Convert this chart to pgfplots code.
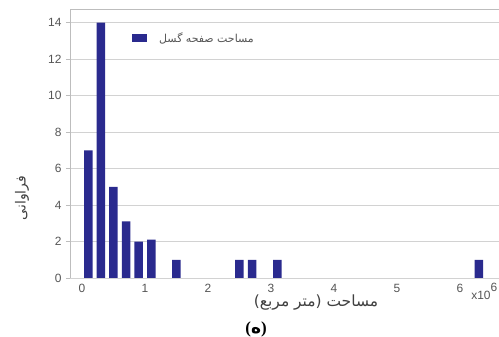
\documentclass[border=0pt]{standalone}
\usepackage{fontspec}
\usepackage{pgfplots}
\pgfplotsset{compat=1.18}
\setmainfont{Liberation Sans}
\newfontfamily\arabicfont[Script=Arabic]{DejaVu Sans}
\newfontfamily\seriffont{Liberation Serif}
\TeXXeTstate=1
\definecolor{barblue}{HTML}{2A2A8E}
\definecolor{ticktext}{HTML}{555555}
\definecolor{frame}{HTML}{BDBDBD}
\definecolor{gridgray}{HTML}{D2D2D2}
\begin{document}
\begin{tikzpicture}
\useasboundingbox (0bp,0bp) rectangle (499bp,337bp);
\begin{axis}[
  at={(70bp,59bp)}, anchor=south west,
  scale only axis, width=429bp, height=269bp,
  xmin=-0.19, xmax=6.62, ymin=0, ymax=14.75,
  ybar, bar width=0.135,
  axis line style={draw=none},
  xtick={0,1,...,6}, ytick={0,2,...,14},
  scaled ticks=false,
  ymajorgrids, grid style={draw=gridgray, line width=0.9bp},
  xtick style={draw=none},
  ytick style={draw=frame, line width=0.9bp},
  tick align=outside, major tick length=4bp,
  tick label style={font=\fontsize{12}{14}\selectfont, text=ticktext},
  /pgf/number format/assume math mode=true,
  yticklabel style={xshift=-1bp},
  xticklabel style={yshift=1bp},
  legend style={at={(0.1445,0.892)}, anchor=west, draw=none, fill=none,
    inner sep=0pt, font=\fontsize{11}{12}\selectfont, text=ticktext,
    /tikz/every odd column/.append style={column sep=10bp}},
  legend image code/.code={\fill[barblue] (0bp,-4bp) rectangle (15bp,4bp);},
]
\addplot[fill=barblue, draw=none] coordinates {
  (0.1,7) (0.3,14) (0.5,5) (0.7,3.1) (0.9,2) (1.1,2.1)
  (1.5,1) (2.5,1) (2.7,1) (3.1,1) (6.3,1)
};
\addlegendentry{\arabicfont\beginR مساحت صفحه گسل\endR}
\draw[frame, line width=0.9bp] (rel axis cs:0,1) -- (rel axis cs:1,1);
\draw[frame, line width=0.9bp] (rel axis cs:0,0) -- (rel axis cs:1,0);
\draw[frame, line width=0.9bp] (rel axis cs:0,0) -- (rel axis cs:0,1);
\end{axis}
% scale factor of the x axis
\node[text=ticktext, font=\fontsize{12}{14}\selectfont, inner sep=0pt] at (481bp,42bp) {x10};
\node[text=ticktext, font=\fontsize{12}{14}\selectfont, inner sep=0pt] at (494bp,50bp) {6};
% axis titles
\node[text=black!75, font=\fontsize{15.5}{17}\selectfont\arabicfont, inner sep=0pt] at (316bp,34bp) {\beginR مساحت (متر مربع)\endR};
\node[text=black!75, font=\fontsize{14}{15}\selectfont\arabicfont, inner sep=0pt, rotate=90] at (22bp,139bp) {\beginR فراوانی\endR};
% panel caption
\node[text=black, font=\fontsize{17}{19}\selectfont, inner sep=0pt] at (256bp,8bp) {{\seriffont\bfseries(}{\arabicfont\bfseries ه}{\seriffont\bfseries)}};
\end{tikzpicture}
\end{document}
